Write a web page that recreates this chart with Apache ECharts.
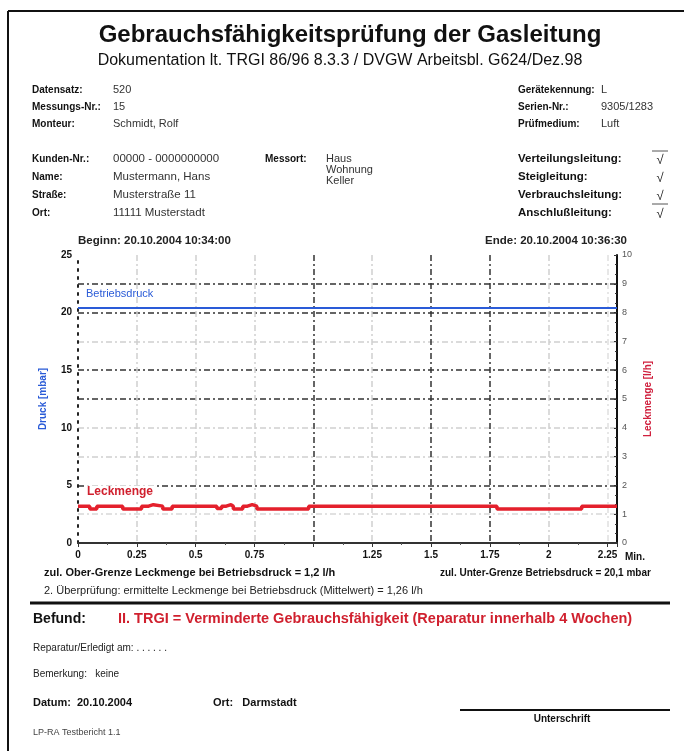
<!DOCTYPE html>
<html><head><meta charset="utf-8">
<script src="https://cdn.jsdelivr.net/npm/echarts@6/dist/echarts.min.js"></script>
<style>html,body{margin:0;padding:0;background:#fff}#c{width:684px;height:751px}</style>
</head><body><div id="c"></div>
<script>
// ---------- data ----------
const titleText = 'Gebrauchsfähigkeitsprüfung der Gasleitung';
const subtitleText = 'Dokumentation lt. TRGI 86/96 8.3.3 / DVGW Arbeitsbl. G624/Dez.98';
const headerLeftLabels = ['Datensatz:', 'Messungs-Nr.:', 'Monteur:'];
const headerLeftValues = ['520', '15', 'Schmidt, Rolf'];
const headerRightLabels = ['Gerätekennung:', 'Serien-Nr.:', 'Prüfmedium:'];
const headerRightValues = ['L', '9305/1283', 'Luft'];
const customerLabels = ['Kunden-Nr.:', 'Name:', 'Straße:', 'Ort:'];
const customerValues = ['00000 - 0000000000', 'Mustermann, Hans', 'Musterstraße 11', '11111 Musterstadt'];
const locationLabel = 'Messort:';
const locationValues = ['Haus', 'Wohnung', 'Keller'];
const pipeLabels = ['Verteilungsleitung:', 'Steigleitung:', 'Verbrauchsleitung:', 'Anschlußleitung:'];
const startText = 'Beginn: 20.10.2004 10:34:00';
const endText = 'Ende: 20.10.2004 10:36:30';

const xTickLabels = ['0', '0.25', '0.5', '0.75', '', '1.25', '1.5', '1.75', '2', '2.25'];
const leftTickLabels = ['0', '5', '10', '15', '20', '25'];
const rightTickLabels = ['0', '1', '2', '3', '4', '5', '6', '7', '8', '9', '10'];

const pressureTimes = [0, 2.29];
const pressureValues = [20.4, 20.4];
const leakTimes  = [0, 0.05, 0.08, 0.19, 0.27, 0.30, 0.32, 0.36, 0.40, 0.59, 0.61, 0.63, 0.65, 0.66, 0.70, 0.72, 0.74, 0.76, 0.98, 1.78, 2.14, 2.29];
const leakValues = [1.28, 1.18, 1.28, 1.18, 1.28, 1.33, 1.28, 1.18, 1.28, 1.20, 1.28, 1.33, 1.28, 1.18, 1.28, 1.33, 1.28, 1.18, 1.28, 1.18, 1.28, 1.28];

const note1Left = 'zul. Ober-Grenze Leckmenge bei Betriebsdruck = 1,2 l/h';
const note1Right = 'zul. Unter-Grenze Betriebsdruck = 20,1 mbar';
const note2 = '2. Überprüfung: ermittelte Leckmenge bei Betriebsdruck (Mittelwert) = 1,26 l/h';
const findingLabel = 'Befund:';
const findingText = 'II. TRGI = Verminderte Gebrauchsfähigkeit (Reparatur innerhalb 4 Wochen)';
const repairText = 'Reparatur/Erledigt am: . . . . . .';
const remarkText = 'Bemerkung:   keine';
const dateText = 'Datum:  20.10.2004';
const placeText = 'Ort:   Darmstadt';
const signText = 'Unterschrift';
const footerText = 'LP-RA Testbericht 1.1';

// ---------- build ----------
const F = '"Liberation Sans", Arial, sans-serif';
const g = [];
function txt(x, y, t, font, fill, align) {
  g.push({type:'text', x, y, style:{text:t, font:font + ' ' + F, fill:fill||'#111', align:align||'left', verticalAlign:'middle'}});
}
function ln(x1, y1, x2, y2, w, c) {
  g.push({type:'line', shape:{x1,y1,x2,y2}, style:{stroke:c||'#111', lineWidth:w||1}});
}
// page border
ln(8, 11, 684, 11, 2);
ln(8, 11, 8, 751, 2);
txt(350, 35, titleText, 'bold 24px', '#111', 'center');
txt(340, 61, subtitleText, '16px', '#111', 'center');
headerLeftLabels.forEach((l,i)=>{ txt(32, 90+i*17, l, 'bold 10px'); txt(113, 90+i*17, headerLeftValues[i], '11px', '#333'); });
headerRightLabels.forEach((l,i)=>{ txt(518, 90+i*17, l, 'bold 10px'); txt(601, 90+i*17, headerRightValues[i], '11px', '#333'); });
customerLabels.forEach((l,i)=>{ txt(32, 159+i*18, l, 'bold 10px'); txt(113, 159+i*18, customerValues[i], '11.5px', '#333'); });
txt(265, 159, locationLabel, 'bold 10px');
locationValues.forEach((v,i)=>{ txt(326, 159+i*11, v, '11px', '#333'); });
pipeLabels.forEach((l,i)=>{ txt(518, 159+i*18, l, 'bold 11.5px'); txt(660, 160+i*18, '√', '13px', '#222', 'center'); });
ln(652, 151, 668, 151, 1, '#555');
ln(652, 204, 668, 204, 1, '#555');
txt(78, 241, startText, 'bold 11.5px', '#222');
txt(627, 241, endText, 'bold 11.5px', '#222', 'right');
txt(44, 573, note1Left, 'bold 11px', '#111');
txt(440, 573, note1Right, 'bold 10px', '#111');
txt(44, 591, note2, '11px', '#222');
ln(30, 603, 670, 603, 3);
txt(33, 619, findingLabel, 'bold 14px');
txt(118, 619, findingText, 'bold 14.5px', '#d0202e');
txt(33, 648, repairText, '10px', '#222');
txt(33, 674, remarkText, '10px', '#222');
txt(33, 703, dateText, 'bold 11px', '#111');
txt(213, 703, placeText, 'bold 11px', '#111');
ln(460, 710, 670, 710, 2);
txt(562, 719, signText, 'bold 10px', '#111', 'center');
txt(33, 733, footerText, '9px', '#444');

const dashDot = [6, 3, 2, 3];
const xGridColors = ['rgba(0,0,0,0)', '#d0d0d0', '#d0d0d0', '#d0d0d0', '#333', '#d0d0d0', '#333', '#333', '#d0d0d0', '#e0e0e0', 'rgba(0,0,0,0)'];
const yGridColors = ['rgba(0,0,0,0)', '#d8d8d8', '#333', '#d0d0d0', '#d0d0d0', '#333', '#333', '#d0d0d0', '#333', '#333', 'rgba(0,0,0,0)'];

const option = {
  animation: false,
  backgroundColor: '#fff',
  textStyle: {fontFamily: F},
  grid: {left: 78, right: 67, top: 255, bottom: 208, containLabel: false},
  xAxis: {
    type: 'value', min: 0, max: 2.29, interval: 0.25,
    name: 'Min.', nameLocation: 'end', nameGap: 8,
    nameTextStyle: {color: '#111', fontWeight: 'bold', fontSize: 10, verticalAlign: 'top', padding: [9, 0, 0, 0]},
    axisLine: {show: true, lineStyle: {color: '#333', width: 2}},
    axisTick: {show: true, length: 4, lineStyle: {color: '#333'}},
    minorTick: {show: true, splitNumber: 2, length: 2, lineStyle: {color: '#555'}},
    axisLabel: {color: '#111', fontWeight: 'bold', fontSize: 10, margin: 7,
      formatter: v => { const i = Math.round(v / 0.25); return Math.abs(v - i * 0.25) < 1e-6 && xTickLabels[i] !== undefined ? xTickLabels[i] : ''; }},
    splitLine: {show: true, lineStyle: {color: xGridColors, type: dashDot, width: 1.5}}
  },
  yAxis: [
    {
      type: 'value', min: 0, max: 25, interval: 5, position: 'left',
      name: 'Druck [mbar]', nameLocation: 'middle', nameGap: 30, nameRotate: 90,
      nameTextStyle: {color: '#2a5bd7', fontSize: 10, fontWeight: 'bold'},
      axisLine: {show: true, lineStyle: {color: '#222', width: 2, type: [2, 6]}},
      axisTick: {show: false},
      axisLabel: {color: '#111', fontWeight: 'bold', fontSize: 10, margin: 6,
        formatter: v => leftTickLabels[Math.round(v / 5)] || ''},
      splitLine: {show: false}
    },
    {
      type: 'value', min: 0, max: 10, interval: 1, position: 'right',
      name: 'Leckmenge [l/h]', nameLocation: 'middle', nameGap: 24, nameRotate: 90,
      nameTextStyle: {color: '#d0203e', fontSize: 10, fontWeight: 'bold'},
      axisLine: {show: true, lineStyle: {color: '#111', width: 2}},
      axisTick: {show: true, inside: true, length: 3, lineStyle: {color: '#333'}},
      minorTick: {show: true, splitNumber: 3, length: 2, lineStyle: {color: '#333'}},
      axisLabel: {color: '#555', fontSize: 9, margin: 5,
        formatter: v => rightTickLabels[Math.round(v)] || ''},
      splitLine: {show: true, lineStyle: {color: yGridColors, type: dashDot, width: 1.5}}
    }
  ],
  series: [
    {
      name: 'Betriebsdruck', type: 'line', yAxisIndex: 0, symbol: 'none',
      data: pressureTimes.map((t, i) => [t, pressureValues[i]]),
      lineStyle: {color: '#2a5bd7', width: 2},
      markPoint: {symbol: 'circle', symbolSize: 0, silent: true,
        data: [{coord: [pressureTimes[0], pressureValues[0]],
          label: {show: true, formatter: 'Betriebsdruck', position: 'right', offset: [3, -14], color: '#2a5bd7', fontSize: 11, fontFamily: F}}]}
    },
    {
      name: 'Leckmenge', type: 'line', yAxisIndex: 1, symbol: 'none', step: 'end',
      data: leakTimes.map((t, i) => [t, leakValues[i]]),
      lineStyle: {color: '#e4202c', width: 3.5},
      markPoint: {symbol: 'circle', symbolSize: 0, silent: true,
        data: [{coord: [leakTimes[0], leakValues[0]],
          label: {show: true, formatter: 'Leckmenge', position: 'right', offset: [2, -14], color: '#d0202e', fontSize: 12, fontWeight: 'bold', fontFamily: F, backgroundColor: '#fff', padding: [1, 2, 1, 2]}}]}
    }
  ],
  graphic: g
};
const chart = echarts.init(document.getElementById('c'), null, {renderer: 'canvas'});
chart.setOption(option);
</script></body></html>
